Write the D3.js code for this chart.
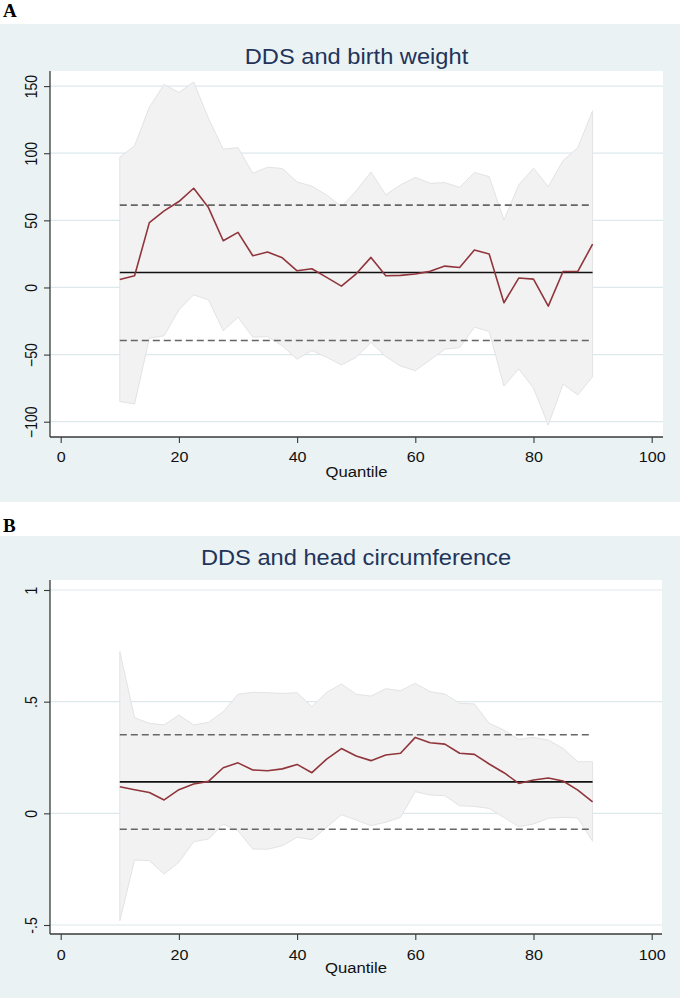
<!DOCTYPE html>
<html>
<head>
<meta charset="utf-8">
<script src="https://cdn.jsdelivr.net/npm/d3@7"></script>
<style>
  html, body { margin: 0; padding: 0; background: #ffffff; }
  svg { display: block; }
</style>
</head>
<body>
<svg id="chart" width="685" height="998"></svg>
<script>
// ---------------- DATA ----------------
const quantiles = [10, 12.5, 15, 17.5, 20, 22.5, 25, 27.5, 30, 32.5, 35, 37.5, 40, 42.5, 45, 47.5,
  50, 52.5, 55, 57.5, 60, 62.5, 65, 67.5, 70, 72.5, 75, 77.5, 80, 82.5, 85, 87.5, 90];

// Panel A: DDS and birth weight
const bwEst = [6.0, 8.7, 48.3, 57.0, 64.0, 73.9, 59.5, 34.8, 41.0, 23.6, 26.4, 22.1, 12.4, 13.9, 7.5, 1.0,
  10.2, 22.4, 8.7, 9.0, 10.0, 12.0, 15.9, 14.9, 27.9, 24.9, -11.4, 7.0, 6.2, -13.9, 11.9, 11.9, 32.3];
const bwUpper = [97, 105.5, 134.3, 151.2, 145.3, 153, 126, 103, 104.2, 85, 89.6, 88.6, 78.6, 75.4, 68.9, 60.2,
  72, 86, 69, 76.4, 82, 77.6, 78.1, 74.6, 85.6, 82.6, 50.2, 76.4, 88.8, 75.1, 94.5, 104.2, 131.6];
const bwLower = [-85, -86.8, -37.8, -36, -16.7, -5.5, -9.2, -32.3, -22.1, -37, -36.6, -43.5, -53.5, -47, -52, -57.7,
  -52, -41, -51.5, -58.5, -62, -54, -46, -44.8, -29.6, -32.8, -73.4, -60.7, -75, -102.5, -71.9, -80.1, -66.4];
const bwOls = [11.2, -39.5, 61.3]; // estimate, lower CI, upper CI

// Panel B: DDS and head circumference
const hcEst = [0.119, 0.106, 0.093, 0.060, 0.106, 0.131, 0.143, 0.204, 0.226, 0.194, 0.191, 0.199, 0.219, 0.182, 0.243, 0.290,
  0.257, 0.236, 0.261, 0.269, 0.340, 0.316, 0.310, 0.269, 0.264, 0.221, 0.182, 0.134, 0.149, 0.158, 0.145, 0.104, 0.051];
const hcUpper = [0.724, 0.428, 0.403, 0.396, 0.440, 0.396, 0.407, 0.455, 0.533, 0.542, 0.540, 0.537, 0.540, 0.478, 0.542, 0.579,
  0.533, 0.525, 0.558, 0.549, 0.582, 0.545, 0.534, 0.493, 0.490, 0.403, 0.373, 0.331, 0.340, 0.328, 0.291, 0.231, 0.231];
const hcLower = [-0.481, -0.209, -0.212, -0.272, -0.219, -0.127, -0.115, -0.048, -0.078, -0.160, -0.161, -0.145, -0.107, -0.118, -0.063, -0.006,
  -0.030, -0.055, -0.040, -0.018, 0.097, 0.082, 0.079, 0.034, 0.031, 0.022, -0.018, -0.060, -0.048, -0.022, -0.018, -0.021, -0.125];
const hcOls = [0.141, -0.071, 0.352];

const xTicks = [0, 20, 40, 60, 80, 100];
const bwTicks = [-100, -50, 0, 50, 100, 150];
const hcTicks = [-0.5, 0, 0.5, 1];
const hcTickLabels = ["-.5", "0", ".5", "1"];

// ---------------- DRAW ----------------
const svg = d3.select("#chart");
const FONT = "'Liberation Sans', Arial, Helvetica, sans-serif";
const SX = 1.15; // horizontal stretch of text in the reference
const colors = {
  bg: "#eaf2f3", grid: "#dde8ed", band: "#f2f2f2", bandEdge: "#e3e3e3",
  est: "#90353b", ols: "#111111", ci: "#666666", title: "#22345a", axis: "#3a3a3a"
};

function drawPanel(cfg) {
  const g = svg.append("g");
  // panel letter
  g.append("text").attr("x", 3).attr("y", cfg.letterY)
    .attr("font-family", "'Liberation Serif', 'Times New Roman', serif")
    .attr("font-weight", "bold").attr("font-size", 19).attr("fill", "#000")
    .text(cfg.letter);
  // background
  g.append("rect").attr("x", 0).attr("y", cfg.bgTop).attr("width", 680).attr("height", cfg.bgBottom - cfg.bgTop)
    .attr("fill", colors.bg);
  // plot region
  g.append("rect").attr("x", cfg.left).attr("y", cfg.top).attr("width", cfg.right - cfg.left)
    .attr("height", cfg.bottom - cfg.top).attr("fill", "#fff");

  const x = d3.scaleLinear().domain([0, 100]).range([60.7, 651.7]);
  const y = d3.scaleLinear().domain(cfg.yDomain).range(cfg.yRange);

  // gridlines
  g.append("g").selectAll("line").data(cfg.yTicks).join("line")
    .attr("x1", cfg.left).attr("x2", cfg.right)
    .attr("y1", d => y(d)).attr("y2", d => y(d))
    .attr("stroke", colors.grid).attr("stroke-width", 1.2);

  const rows = quantiles.map((q, i) => ({ q, est: cfg.est[i], lo: cfg.lower[i], hi: cfg.upper[i] }));

  // CI band
  const area = d3.area().x(d => x(d.q)).y0(d => y(d.lo)).y1(d => y(d.hi));
  g.append("path").datum(rows).attr("d", area)
    .attr("fill", colors.band).attr("stroke", colors.bandEdge).attr("stroke-width", 1);

  // OLS reference lines
  const qMin = d3.min(quantiles), qMax = d3.max(quantiles);
  const olsLines = [
    { v: cfg.ols[1], dash: "7,4", color: colors.ci },
    { v: cfg.ols[2], dash: "7,4", color: colors.ci },
    { v: cfg.ols[0], dash: null, color: colors.ols }
  ];
  g.append("g").selectAll("line").data(olsLines).join("line")
    .attr("x1", x(qMin)).attr("x2", x(qMax))
    .attr("y1", d => y(d.v)).attr("y2", d => y(d.v))
    .attr("stroke", d => d.color).attr("stroke-width", 1.6)
    .attr("stroke-dasharray", d => d.dash);

  // estimate line
  const line = d3.line().x(d => x(d.q)).y(d => y(d.est));
  g.append("path").datum(rows).attr("d", line)
    .attr("fill", "none").attr("stroke", colors.est).attr("stroke-width", 1.6)
    .attr("stroke-linejoin", "round");

  // x axis
  const xAxis = g.append("g").attr("transform", `translate(0,${cfg.bottom})`)
    .call(d3.axisBottom(x).tickValues(xTicks).tickSize(6).tickFormat(d3.format("d")));
  xAxis.select(".domain").remove();
  xAxis.append("line").attr("x1", cfg.left).attr("x2", cfg.right).attr("y1", 0).attr("y2", 0)
    .attr("stroke", colors.axis).attr("stroke-width", 1.3);
  xAxis.selectAll(".tick line").attr("stroke", colors.axis).attr("stroke-width", 1.1);
  xAxis.selectAll(".tick text")
    .attr("y", cfg.xLabelOffset).attr("dy", 0)
    .attr("transform", `scale(${SX},1)`)
    .attr("font-family", FONT).attr("font-size", 14).attr("fill", "#111");

  // y axis
  const yAxis = g.append("g").attr("transform", `translate(${cfg.left},0)`)
    .call(d3.axisLeft(y).tickValues(cfg.yTicks).tickSize(6)
      .tickFormat((d, i) => cfg.yTickLabels ? cfg.yTickLabels[i] : d3.format("d")(d)));
  yAxis.select(".domain").remove();
  yAxis.append("line").attr("x1", 0).attr("x2", 0).attr("y1", cfg.top).attr("y2", cfg.bottom)
    .attr("stroke", colors.axis).attr("stroke-width", 1.3);
  yAxis.selectAll(".tick line").attr("stroke", colors.axis).attr("stroke-width", 1.1);
  yAxis.selectAll(".tick text")
    .attr("x", 0).attr("y", 0).attr("dy", 0)
    .attr("text-anchor", "middle")
    .attr("transform", `translate(-13,0) rotate(-90) scale(1,${SX})`)
    .attr("font-family", FONT).attr("font-size", 14).attr("fill", "#111");

  // title
  const cx = (cfg.left + cfg.right) / 2;
  g.append("text").attr("transform", `translate(${cx},${cfg.titleY}) scale(1.1,1)`)
    .attr("text-anchor", "middle").attr("font-family", FONT).attr("font-size", 21.5)
    .attr("fill", colors.title).text(cfg.title);

  // x axis title
  g.append("text").attr("transform", `translate(${cx},${cfg.xTitleY}) scale(${SX},1)`)
    .attr("text-anchor", "middle").attr("font-family", FONT).attr("font-size", 14.5)
    .attr("fill", "#111").text("Quantile");
}

drawPanel({
  letter: "A", letterY: 17, bgTop: 24, bgBottom: 502,
  left: 50, right: 663, top: 71, bottom: 437,
  yDomain: [-100, 150], yRange: [421.7, 86.1],
  yTicks: bwTicks, yTickLabels: null,
  est: bwEst, lower: bwLower, upper: bwUpper, ols: bwOls,
  title: "DDS and birth weight", titleY: 64, xLabelOffset: 25, xTitleY: 477
});

drawPanel({
  letter: "B", letterY: 532, bgTop: 536, bgBottom: 998,
  left: 50, right: 662, top: 580, bottom: 934,
  yDomain: [-0.5, 1], yRange: [925, 590],
  yTicks: hcTicks, yTickLabels: hcTickLabels,
  est: hcEst, lower: hcLower, upper: hcUpper, ols: hcOls,
  title: "DDS and head circumference", titleY: 565, xLabelOffset: 26, xTitleY: 973
});
</script>
</body>
</html>
